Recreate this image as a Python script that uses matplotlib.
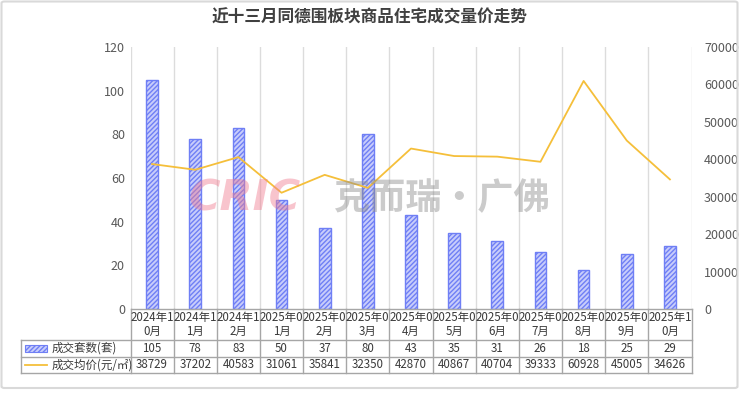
import matplotlib
matplotlib.use("Agg")
import matplotlib.pyplot as plt
import matplotlib.transforms as mtransforms
from matplotlib.patches import Rectangle, FancyBboxPatch
from matplotlib.lines import Line2D

plt.rcParams['font.family'] = ['Noto Sans CJK SC', 'DejaVu Sans']
plt.rcParams['hatch.linewidth'] = 1.0

title = '近十三月同德围板块商品住宅成交量价走势'
categories = ['2024年10月', '2024年11月', '2024年12月', '2025年01月', '2025年02月',
              '2025年03月', '2025年04月', '2025年05月', '2025年06月', '2025年07月',
              '2025年08月', '2025年09月', '2025年10月']
volume = [105, 78, 83, 50, 37, 80, 43, 35, 31, 26, 18, 25, 29]
price = [38729, 37202, 40583, 31061, 35841, 32350, 42870, 40867, 40704, 39333, 60928, 45005, 34626]
series_names = ['成交套数(套)', '成交均价(元/㎡)']
left_ticks = [0, 20, 40, 60, 80, 100, 120]
right_ticks = [0, 10000, 20000, 30000, 40000, 50000, 60000, 70000]

W, H = 740, 396
fig = plt.figure(figsize=(W / 100, H / 100), dpi=100)

def fx(x):
    return x / W

def fy(y):
    return 1 - y / H

# outer border
fig.patches.append(FancyBboxPatch((fx(1.5), fy(388)), fx(736), (388 - 1.5) / H,
                                  boxstyle='round,pad=0,rounding_size=0.004',
                                  transform=fig.transFigure, fill=False,
                                  edgecolor='#d9d9d9', linewidth=1.5))

x0, x1, ytop, ybot = 130.5, 691.5, 47, 309
ax = fig.add_axes([fx(x0), fy(ybot), fx(x1 - x0), (ybot - ytop) / H])
ax2 = ax.twinx()

n = len(categories)
xs = list(range(n))
bar_face = '#c8cdfb'
bar_edge = '#6f7ff5'
line_color = '#f5bf3a'

ax.set_xlim(-0.5, n - 0.5)
ax.set_ylim(0, 120)
ax2.set_ylim(0, 70000)
ax.set_yticks(left_ticks)
ax2.set_yticks(right_ticks)
ax.set_xticks([])
for a in (ax, ax2):
    for s in a.spines.values():
        s.set_visible(False)
    a.tick_params(axis='y', length=0, labelsize=9, labelcolor='#595959', pad=4)
ax2.tick_params(axis='y', pad=9)
ax.set_zorder(ax2.get_zorder() + 1)
ax.patch.set_visible(False)

for i in range(n + 1):
    ax.axvline(i - 0.5, color='#dcdcdc', linewidth=1.0, zorder=1)

ax.bar(xs, volume, width=0.27, color=bar_face, edgecolor=bar_edge, hatch='///////',
       linewidth=1.0, zorder=3)
# price line drawn on ax in ax2 scale units
scale = 120 / 70000
ax.plot(xs, [p * scale for p in price], color=line_color, linewidth=1.3, zorder=4)

# title
fig.text(fx(370), fy(17), title, ha='center', va='center', fontsize=12,
         fontweight='bold', color='#404040')

# watermark
fig.text(fx(188), fy(199), 'CRIC', ha='left', va='center', fontsize=31,
         fontweight='heavy', fontstyle='italic', color='#f07d90', alpha=0.45,
         family=['DejaVu Sans'])
fig.text(fx(333), fy(199), '克而瑞·广佛', ha='left', va='center', fontsize=26,
         fontweight='bold', color='#8c8c8c', alpha=0.45)

# table
tb = mtransforms.blended_transform_factory(ax.transData, fig.transFigure)
gcol = '#a6a6a6'
r0, r1, r2, r3 = 309, 340, 356.5, 373
lx = 21
fig.add_artist(Line2D([fx(x0), fx(x1)], [fy(r0), fy(r0)], color=gcol, lw=1.0, transform=fig.transFigure))
for r in (r1, r2, r3):
    fig.add_artist(Line2D([fx(lx), fx(x1)], [fy(r), fy(r)], color=gcol, lw=1.0, transform=fig.transFigure))
fig.add_artist(Line2D([fx(lx), fx(lx)], [fy(r1), fy(r3)], color=gcol, lw=1.0, transform=fig.transFigure))
for i in range(n + 1):
    fig.add_artist(Line2D([i - 0.5, i - 0.5], [fy(r0), fy(r3)], color=gcol, lw=1.0, transform=tb))

tcol = '#3a3a3a'
fs = 8.3
for i, c in enumerate(categories):
    lab = c[:6] + '\n' + c[6:]
    fig.text(i, fy((r0 + r1) / 2), lab, transform=tb, ha='center', va='center',
             fontsize=fs, color=tcol, linespacing=1.0)
    fig.text(i, fy((r1 + r2) / 2), str(volume[i]), transform=tb, ha='center', va='center',
             fontsize=fs, color=tcol)
    fig.text(i, fy((r2 + r3) / 2), str(price[i]), transform=tb, ha='center', va='center',
             fontsize=fs, color=tcol)

# legend cells
fig.patches.append(Rectangle((fx(25), fy(352)), fx(22), 7 / H, transform=fig.transFigure,
                             facecolor=bar_face, edgecolor=bar_edge, hatch='///////', lw=0.8))
fig.text(fx(52), fy((r1 + r2) / 2), series_names[0], ha='left', va='center', fontsize=fs, color=tcol)
fig.add_artist(Line2D([fx(25), fx(47)], [fy(365), fy(365)], color=line_color, lw=1.3,
                      transform=fig.transFigure))
fig.text(fx(52), fy((r2 + r3) / 2), series_names[1], ha='left', va='center', fontsize=fs, color=tcol)

fig.savefig('out.png', dpi=100)
